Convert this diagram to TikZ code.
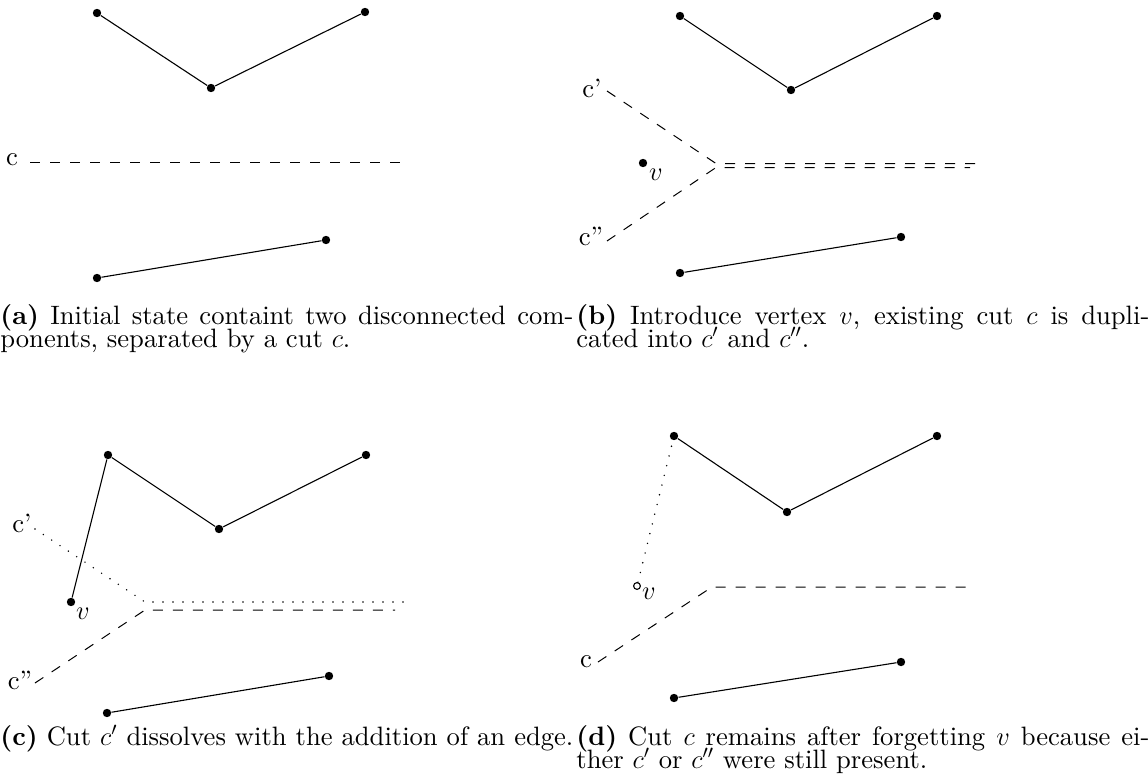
\RequirePackage{fix-cm}
\documentclass[tikz,border=0pt]{standalone}
\usepackage{fontspec}
\setmainfont{lmroman10}[Extension=.otf, UprightFont=*-regular, BoldFont=*-bold, ItalicFont=*-italic, BoldItalicFont=*-bolditalic]
\newlength\capw
\setlength\capw{286.5pt}
\newcommand\capfont{\fontsize{13.3pt}{11.5pt}\selectfont}
\tikzset{
  vtx/.style={circle, fill=black, inner sep=0pt, minimum size=4.2pt},
  hollowvtx/.style={circle, draw=black, fill=white, line width=0.55pt, inner sep=0pt, minimum size=3.4pt},
  edge/.style={line width=0.55pt},
  cutdash/.style={line width=0.5pt, dash pattern=on 5pt off 5pt},
  cutdot/.style={line width=0.8pt, line cap=round, dash pattern=on 0pt off 5pt},
  lbl/.style={inner sep=0pt, font=\capfont},
  captext/.style={inner sep=0pt, anchor=base west, font=\capfont},
}
% a caption line set flush to the full column width
\newcommand\fullline[1]{\makebox[\capw][s]{#1}}
\begin{document}
\begin{tikzpicture}[x=0.5pt, y=-0.5pt]
  \useasboundingbox (0,0) rectangle (1148,782);

  % ---------- (a) ----------
  \node[vtx] (a1) at (97,13) {};
  \node[vtx] (a2) at (211,88) {};
  \node[vtx] (a3) at (365,12) {};
  \node[vtx] (a4) at (97,278) {};
  \node[vtx] (a5) at (326,240) {};
  \draw[edge] (a1) -- (a2) -- (a3);
  \draw[edge] (a4) -- (a5);
  \node[lbl] (ac) at (12,160) {c};
  \coordinate (acs) at (30,162);
  \coordinate (ace) at (404,162);
  \draw[cutdash] (acs) -- (ace);
  \node[captext] (capa1) at (0,324) {\fullline{\textbf{(a)} Initial state containt two disconnected com-}};
  \node[captext] (capa2) at (0,347.5) {ponents, separated by a cut $c$.};

  % ---------- (b) ----------
  \node[vtx] (b1) at (680,16) {};
  \node[vtx] (b2) at (791,90) {};
  \node[vtx] (b3) at (937,16) {};
  \node[vtx] (b4) at (680,273) {};
  \node[vtx] (b5) at (901,237) {};
  \node[vtx] (bv) at (643,163) {};
  \draw[edge] (b1) -- (b2) -- (b3);
  \draw[edge] (b4) -- (b5);
  \node[lbl] (bvl) at (656,175) {$v$};
  \node[lbl] (bc1) at (592,88) {c'};
  \node[lbl] (bc2) at (591,236) {c''};
  \coordinate (bc1s) at (607,91);
  \coordinate (bj1) at (716,163.5);
  \coordinate (bc1e) at (975,163.5);
  \coordinate (bc2s) at (607,241);
  \coordinate (bj2) at (716,167.5);
  \coordinate (bc2e) at (970,167.5);
  \draw[cutdash] (bc1s) -- (bj1) -- (bc1e);
  \draw[cutdash] (bc2s) -- (bj2) -- (bc2e);
  \node[captext] (capb1) at (576,324) {\fullline{\textbf{(b)} Introduce vertex $v$, existing cut $c$ is dupli-}};
  \node[captext] (capb2) at (576,347.5) {cated into $c'$ and $c''$.};

  % ---------- (c) ----------
  \node[vtx] (c1) at (108,455) {};
  \node[vtx] (c2) at (219,529) {};
  \node[vtx] (c3) at (366,455) {};
  \node[vtx] (cv) at (71,602) {};
  \node[vtx] (c4) at (107,713) {};
  \node[vtx] (c5) at (329,676) {};
  \draw[edge] (cv) -- (c1) -- (c2) -- (c3);
  \draw[edge] (c4) -- (c5);
  \node[lbl] (cvl) at (83,614) {$v$};
  \node[lbl] (cc1) at (22,523) {c'};
  \node[lbl] (cc2) at (20,680) {c''};
  \coordinate (cc1s) at (35,529);
  \coordinate (cj1) at (145,602);
  \coordinate (cc1e) at (403,602);
  \coordinate (cc2s) at (35,683);
  \coordinate (cj2) at (145,610);
  \coordinate (cc2e) at (395,610);
  \draw[cutdot] (cc1s) -- (cj1) -- (cc1e);
  \draw[cutdash] (cc2s) -- (cj2) -- (cc2e);
  \node[captext] (capc) at (0,745) {\fullline{\textbf{(c)} Cut $c'$ dissolves with the addition of an edge.}};

  % ---------- (d) ----------
  \node[vtx] (d1) at (674,436) {};
  \node[vtx] (d2) at (787,512) {};
  \node[vtx] (d3) at (937,436) {};
  \node[vtx] (d4) at (674,698) {};
  \node[vtx] (d5) at (901,662) {};
  \node[hollowvtx] (dv) at (637,586) {};
  \draw[edge] (d1) -- (d2) -- (d3);
  \draw[edge] (d4) -- (d5);
  \draw[cutdot] (dv) -- (d1);
  \node[lbl] (dvl) at (649,594) {$v$};
  \node[lbl] (dc) at (586,662) {c};
  \coordinate (dcs) at (598,662);
  \coordinate (dj) at (712,587);
  \coordinate (dce) at (975,587);
  \draw[cutdash] (dcs) -- (dj) -- (dce);
  \node[captext] (capd1) at (576,745) {\fullline{\textbf{(d)} Cut $c$ remains after forgetting $v$ because ei-}};
  \node[captext] (capd2) at (576,768.5) {ther $c'$ or $c''$ were still present.};
\end{tikzpicture}
\end{document}
